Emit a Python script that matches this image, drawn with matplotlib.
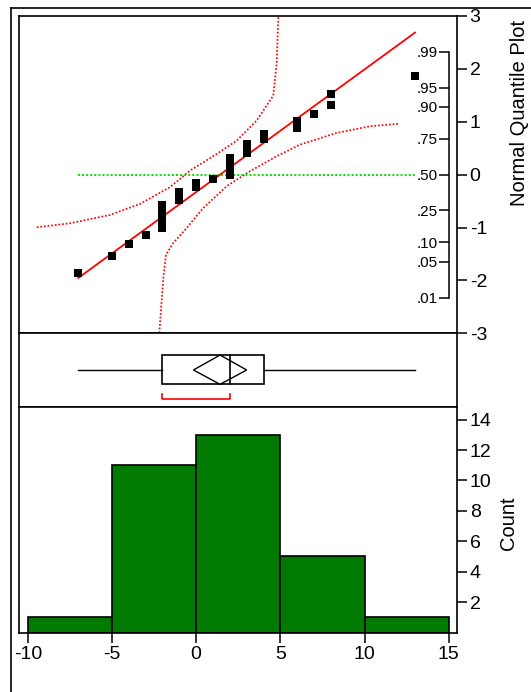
import matplotlib
matplotlib.use("Agg")
import matplotlib.pyplot as plt
import numpy as np
from matplotlib.patches import Rectangle, Polygon
from matplotlib.lines import Line2D
from statistics import NormalDist

plt.rcParams['font.family'] = ['Liberation Sans', 'DejaVu Sans']
plt.rcParams['axes.unicode_minus'] = False

values = [-7, -5, -4, -3, -2, -2, -2, -2, -2, -1, -1, -1, 0, 0, 1,
          2, 2, 2, 2, 2, 3, 3, 3, 4, 4, 6, 6, 7, 8, 8, 13]
bin_edges = [-10, -5, 0, 5, 10, 15]
x_ticks = [-10, -5, 0, 5, 10, 15]
count_ticks = [2, 4, 6, 8, 10, 12, 14]
z_ticks = [-3, -2, -1, 0, 1, 2, 3]
prob_ticks = [0.01, 0.05, 0.10, 0.25, 0.50, 0.75, 0.90, 0.95, 0.99]
prob_labels = ['.01', '.05', '.10', '.25', '.50', '.75', '.90', '.95', '.99']

# confidence bands (dotted red)
upper_x = [-9.47, -7.49, -5.12, -3.34, -1.56, -0.37, 1.22, 2.41, 3.59, 4.58, 4.78, 4.88]
upper_z = [-0.995, -0.919, -0.762, -0.554, -0.238, 0.076, 0.391, 0.643, 1.021, 1.494, 2.093, 2.977]
lower_x = [-2.19, -1.95, -1.79, -1.36, -0.56, 0.42, 1.81, 3.19, 4.78, 6.16, 8.34, 10.32, 12.10]
lower_z = [-2.994, -1.952, -1.513, -1.292, -1.008, -0.630, -0.219, 0.064, 0.348, 0.567, 0.789, 0.915, 0.964]

t_crit = 2.042  # t(30, .975)

nd = NormalDist()
data = np.sort(np.array(values, dtype=float))
n = len(data)
mean = data.mean()
sd = data.std(ddof=1)
zq = np.array([nd.inv_cdf(r / (n + 1)) for r in range(1, n + 1)])
q1, med, q3 = np.percentile(data, [25, 50, 75], method='weibull')
ci = t_crit * sd / np.sqrt(n)
# shortest half
k = int(np.ceil(n / 2))
widths = data[k - 1:] - data[:n - k + 1]
i0 = int(np.argmin(widths))
sh_lo, sh_hi = data[i0], data[i0 + k - 1]

W, H = 531, 692
fig = plt.figure(figsize=(W / 100, H / 100), dpi=100)
L, R = 19.3 / W, 456.5 / W


def panel(top, bot):
    return [L, 1 - bot / H, R - L, (bot - top) / H]


ax_q = fig.add_axes(panel(16, 333.3))
ax_b = fig.add_axes(panel(333.3, 406.7))
ax_h = fig.add_axes(panel(406.7, 632.5))
xlim = (-10.505, 15.463)
lw = 1.2
dots = (0, (1, 1.1))

for a in (ax_q, ax_b, ax_h):
    a.set_xlim(*xlim)
    for s in a.spines.values():
        s.set_linewidth(lw)

# ---- normal quantile plot
ax_q.plot(upper_x, upper_z, color='red', ls=dots, lw=1.25)
ax_q.plot(lower_x, lower_z, color='red', ls=dots, lw=1.25)
ax_q.plot([data.min(), data.max()], [0, 0], color='#00e000', ls=dots, lw=1.4)
xs = np.array([data.min(), data.max()])
ax_q.plot(xs, (xs - mean) / sd, color='red', lw=1.3)
ax_q.plot(data, zq, 's', color='black', ms=6.2, mew=0)
ax_q.set_ylim(-3, 3)
ax_q.set_xticks([])
ax_q.yaxis.tick_right()
ax_q.set_yticks(z_ticks)
ax_q.tick_params(axis='y', direction='out', length=7, width=1.1, labelsize=14, pad=2.5)

loc = (15 - xlim[0]) / (xlim[1] - xlim[0])
fwd = np.vectorize(lambda z: nd.cdf(z), otypes=[float])
inv = np.vectorize(lambda p: nd.inv_cdf(min(max(p, 1e-9), 1 - 1e-9)), otypes=[float])
sec = ax_q.secondary_yaxis(loc, functions=(fwd, inv))
sec.set_alignment('left')
sec.set_yticks(prob_ticks)
sec.set_yticklabels(prob_labels)
sec.spines['left'].set_bounds(0.01, 0.99)
sec.spines['left'].set_linewidth(1.1)
sec.tick_params(axis='y', direction='out', length=7, width=1.1, labelsize=11, pad=1)

fig.text(519.4 / W, 1 - 113.3 / H, 'Normal Quantile Plot', rotation=90,
         ha='center', va='center', fontsize=14.5)

# ---- outlier box plot
ax_b.set_ylim(0, 1)
ax_b.set_xticks([])
ax_b.set_yticks([])
bb, bt = 0.305, 0.704
ax_b.plot([data.min(), q1], [0.5, 0.5], color='black', lw=1.0)
ax_b.plot([q3, data.max()], [0.5, 0.5], color='black', lw=1.0)
ax_b.add_patch(Rectangle((q1, bb), q3 - q1, bt - bb, fill=False, ec='black', lw=1.2))
ax_b.plot([med, med], [bb, bt], color='black', lw=1.2)
ax_b.add_patch(Polygon([(mean - ci, 0.5), (mean, bt), (mean + ci, 0.5), (mean, bb)],
                       closed=True, fill=False, ec='black', lw=1.0))
ax_b.plot([sh_lo, sh_lo, sh_hi, sh_hi], [0.169, 0.105, 0.105, 0.169], color='red', lw=1.2)

# ---- histogram
ax_h.hist(values, bins=bin_edges, color='#007a00', edgecolor='black', linewidth=1.2)
ax_h.set_ylim(0, 14.85)
ax_h.set_xticks(x_ticks)
ax_h.yaxis.tick_right()
ax_h.set_yticks(count_ticks)
ax_h.tick_params(axis='both', direction='out', length=7, width=1.1, labelsize=14)
ax_h.tick_params(axis='x', pad=2.5)
ax_h.tick_params(axis='y', pad=2.5)
fig.text(508.7 / W, 1 - 523 / H, 'Count', rotation=90, ha='center', va='center', fontsize=14.5)

# outer frame
x0, y0 = 11.2 / W, 1 - 8.3 / H
fig.add_artist(Line2D([x0, x0], [0, y0], color='black', lw=1.2))
fig.add_artist(Line2D([x0, 1], [y0, y0], color='black', lw=1.2))

fig.savefig('out.png', dpi=100)
